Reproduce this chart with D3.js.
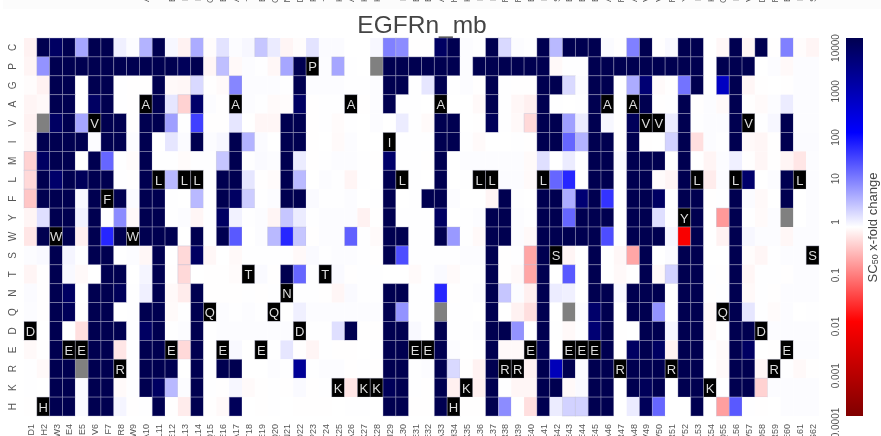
<!DOCTYPE html>
<html><head><meta charset="utf-8">
<script src="https://cdn.jsdelivr.net/npm/d3@7"></script>
<style>html,body{margin:0;padding:0;background:#fff;overflow:hidden}svg{display:block;filter:blur(0.45px)}text{font-family:"Liberation Sans",Arial,sans-serif}</style>
</head><body><div id="chart"></div>
<script>
const titleText = "EGFRn_mb";
const sequence = "DHWEEVFRWALELLQEATEQNDPTKAKKILEEAHKLLRRELSEEEARAVVRYLKQLVDRELS".split("");
const rowLabels = ["C","P","G","A","V","I","M","L","F","Y","W","S","T","N","Q","D","E","R","K","H"];
const legendTicks = [10000,1000,100,10,1,0.1,0.01,0.001,0.0001];
const legendTickNudge = [10,6,5,-1,-5,1,5,7,7];
// log10 of SC50 x-fold change, null = no data (grey)
const rowC = [-0.1,4,3.8,4,0.7,4,4,0.12,0.02,0.6,4,0.06,-0.1,0.65,-0.02,0.22,0.02,0.06,0.45,0.16,-0.08,-0.02,0.22,0.03,0.03,0,0,0.06,1,0.9,-0.01,-0.01,3.8,4,0.02,0.01,4,0.3,0.02,0.01,4,0.55,4,4,4,0.03,-0.01,1,4,-0.01,0.05,4,4,0,-0.06,4,-0.07,4,-0.01,1,-0.02,-0.08];
const rowP = [-0.08,0.85,4,4,4,4,4,4,4,4,4,4,3.9,4,-0.07,0.5,-0.05,0.02,0.01,-0.06,0.7,4,0,0.02,0.7,0.01,0,null,4,4,4,4,4,4,0.02,4,4,4,4,4,4,-0.05,0.01,0.01,4,4,4,4,4,4,4,4,4,0.01,4,4,4,0,0.02,-0.05,0.02,0.02];
const rowG = [-0.02,-0.1,4,4,0,4,4,0.01,-0.01,-0.01,4,-0.05,-0.06,0.3,-0.01,-0.04,0.95,0.02,0.02,0.02,0.01,4,0.02,0.02,0.02,0.01,0.01,0.02,4,4,0.01,0.2,4,0.01,0.02,-0.01,4,0.01,-0.01,-0.01,4,4,0.3,0.02,4,4,0,0.65,3.6,-0.04,-0.01,1.1,4,0.01,2.7,4,-0.07,-0.01,0,-0.01,0.02,0.02];
const rowA = [-0.08,-0.05,4,4,0,3.8,4,0.01,-0.01,0,4,0.2,-0.35,3.7,0.02,-0.01,0,0.02,0.01,-0.04,-0.02,3.8,-0.01,0.01,0.01,0,-0.01,0.02,4,0.01,0.01,0,0,0,0,-0.05,4,0.01,-0.06,-0.12,4,0.01,0,0.01,4,0,0,0,4,-0.01,0.01,4,-0.01,0.02,-0.05,4,-0.01,-0.04,0.02,0.15,0.02,0.02];
const rowV = [-0.1,null,3.8,4,0.7,0,4,4,-0.01,4,4,0.75,0.01,1.5,-0.01,-0.01,0.2,0,-0.07,-0.07,4,4,-0.01,0.01,-0.03,0.01,0,0.02,0,0.15,0.01,-0.04,4,4,0,-0.01,3.9,0.01,-0.05,-0.3,4,4,0.75,0.15,4,0.06,-0.01,3.9,0,0,0.15,4,0.01,0.02,0.02,4,0,0.01,0.06,4,0.02,0.02];
const rowI = [-0.06,4,4,4,4,0.02,4,4,0.02,4,0,0.2,0.03,4,0.02,0.06,4,0.6,0.03,0,4,4,-0.01,0,-0.04,0.02,0,0,0,0.01,0.01,0.01,4,4,0.01,-0.04,0,0,0.01,-0.01,4,4,1.2,0.6,4,4,-0.01,4,-0.01,0,0.35,4,-0.25,0.02,0.01,4,-0.05,-0.07,-0.01,4,0.03,0.03];
const rowM = [-0.35,3.8,4,4,0,4,1.2,0.01,-0.03,4,0.01,0.01,-0.03,0.01,0.01,0.45,4,0.01,0.04,0.02,4,0.15,-0.01,0.01,0.02,0.02,0.01,-0.01,3.7,0.01,0.01,-0.01,4,0,0.02,0.02,0.02,0.02,0.02,-0.04,0.25,0,0.15,0,4,4,0.04,4,4,4,0,4,0,-0.08,0.02,0.12,-0.01,-0.07,-0.01,-0.08,-0.2,0.02];
const rowL = [-0.3,4,3.7,4,3.9,4,4,0.01,-0.01,4,0,0.55,0,0,0.01,4,4,0.2,-0.01,-0.03,4,0.55,0,0.02,0.01,-0.08,0.01,0,4,0,0.01,0,4,0,0.01,0,0,0.02,0.02,-0.04,0,1.2,1.7,0,4,4,0.01,4,4,-0.03,-0.08,4,0,-0.15,0.02,0,3.7,0,0.02,4,0,0.02];
const rowF = [-0.45,4,4,4,0.05,4,0,4,0.03,4,4,0.01,0,0.55,0.01,4,3.8,0.4,0.01,0.02,4,4,0.04,0.01,0.01,0.02,0,0.01,4,0,0.01,4,4,0.02,0,0,-0.08,4,0.01,0,4,4,0.65,3.6,4,1.6,0.01,4,4,3.8,0,4,4,-0.01,0.01,4,0.03,-0.05,0,4,0,0.02];
const rowY = [-0.08,0.25,4,4,0.1,4,0,0.9,-0.05,4,4,0.01,0.02,-0.07,0.01,3.8,0.1,0.01,0.02,-0.08,0.45,0.15,0.01,0.02,0.02,0.02,-0.1,-0.01,4,0.01,0.01,0.01,3.8,0,0.01,0.02,4,4,0.02,0.01,4,4,1.2,4,4,4,0,4,4,0.25,0.01,0,4,0,-0.8,4,0.01,-0.04,0.02,null,0,0.02];
const rowW = [-0.2,4,0,4,-0.12,4,1.7,4,0,4,4,4,0,4,0.01,4,1.3,0,0.02,0.55,1.7,0.45,-0.01,0.02,0.02,1.25,0.01,-0.04,4,4,0.01,0.01,4,0.8,0.01,-0.05,4,4,0.02,-0.05,4,4,4,4,4,1.4,0,4,4,4,0.06,-2.1,4,0,-0.1,4,0.06,0.02,0.02,-0.06,0.02,0.02];
const rowS = [0.02,0.05,4,0.08,0.01,4,4,0.01,0.02,-0.06,4,0,-0.3,3.8,-0.06,0,-0.05,0.01,0.01,0.01,0.01,-0.05,0.04,0.01,0.02,0.02,0.01,-0.01,4,1.4,0.01,0.01,0.01,0.01,0.02,0.02,4,-0.01,0.01,-0.7,4,0,-0.08,0,4,0,-0.06,-0.7,4,0,0.03,4,4,0,0,4,-0.02,-0.07,0.01,0.02,0.02,0];
const rowT = [-0.08,-0.01,4,0.05,-0.05,0,4,4,0,0.08,4,-0.01,-0.3,0,-0.01,-0.01,-0.03,0,0.04,-0.01,4,1.2,0.01,0,0.04,-0.01,0.01,0.01,0,0,-0.04,0.01,0.04,-0.04,0.01,0.01,4,-0.01,-0.05,-0.7,4,0,1.3,0,4,0,-0.05,-0.01,4,-0.05,0.35,4,4,0.01,-0.01,4,-0.07,0.01,0.01,-0.01,0.02,0.02];
const rowN = [0.03,-0.01,4,3.8,0,4,4,3.9,0.01,0.12,4,-0.05,-0.15,4,-0.01,-0.01,-0.01,0.01,-0.01,0.01,0,0.01,0.01,-0.01,-0.07,0.04,0.01,0.01,4,4,0.01,0.01,1.7,-0.01,0.01,0.02,4,0.45,0.02,-0.12,4,0.15,0.12,0,4,4,0.05,4,4,4,0,4,4,-0.01,0.01,4,-0.05,0.01,-0.01,0.02,0.02,0.02];
const rowQ = [0.02,-0.01,4,3.9,-0.01,4,4,0,0.01,4,4,-0.04,0.01,4,0,0.02,0.01,0.02,0.01,0,0,0.12,0.02,0.02,0.02,0.02,0.02,0.02,4,0.85,0.01,0.01,null,0.01,0.01,0,4,0,-0.1,-0.25,4,0,null,0.02,3.7,4,0,4,4,0.85,0,4,4,-0.05,0,4,0.2,0.01,-0.03,0.02,0,0.01];
const rowD = [0,0,4,0,-0.25,4,4,4,0.01,3.8,4,0.01,0.02,4,0.01,0.02,0.02,0.02,0.02,0.02,0.02,0,0.01,0.01,0.25,4,-0.01,-0.01,4,4,0.05,0.01,4,0.01,0.01,0.02,4,4,0.85,0,4,0.01,-0.05,0.01,3.6,4,-0.01,0,4,4,0.06,4,4,-0.04,0,4,4,0,0.02,0.02,0.02,0.02];
const rowE = [-0.05,-0.01,4,0,0,4,4,-0.2,0.01,4,4,0,-0.3,4,0,0,0.05,0,0,0.01,0.2,-0.01,-0.08,0.01,-0.01,-0.01,0,0.01,4,4,0,0,4,0.02,0,0.01,4,-0.05,-0.05,0,4,0,0,0,0,4,-0.01,3.8,4,3.8,-0.1,4,4,0.01,-0.04,4,3.8,0,-0.01,0,0.02,0.02];
const rowR = [0.01,-0.05,4,4,null,4,4,0,0.01,4,4,4,0,4,0.01,4,4,0,0,0.02,0.01,3.2,0.01,0.02,0.02,-0.01,0.01,-0.01,4,4,0.01,0.02,4,0.3,-0.01,-0.1,4,0,0,-0.1,4,2.8,4,0.03,4,4,0,4,4,4,0,4,4,0,-0.05,4,4,-0.07,0,0.01,-0.05,-0.01];
const rowK = [0.01,0,4,4,0.04,4,4,-0.04,0.01,4,3.8,0.55,0.02,4,0.01,-0.01,0.06,-0.04,-0.01,0.01,-0.01,0.04,-0.01,0.01,0,-0.2,0,0,3.9,4,0.01,-0.01,4,-0.12,0,-0.12,4,0.01,-0.07,-0.07,4,4,-0.05,0.04,4,4,0,4,3.9,4,0,4,4,0,0,4,4,-0.35,0.02,0.02,0.02,0.02];
const rowH = [-0.01,0,4,4,0.04,4,4,0.08,-0.01,0.01,4,-0.01,-0.15,4,-0.01,-0.05,3.9,0,-0.01,0.01,0,-0.01,-0.01,-0.01,0,0.01,0.01,0,4,4,-0.01,-0.01,4,0,-0.01,-0.01,4,0.9,0,-0.25,4,0.15,0.35,0.35,4,4,0,0.15,3.9,1.2,0,0,4,0,-0.75,1.3,0.01,-0.01,0,0.02,0.02,0.02];
const rows = [rowC,rowP,rowG,rowA,rowV,rowI,rowM,rowL,rowF,rowY,rowW,rowS,rowT,rowN,rowQ,rowD,rowE,rowR,rowK,rowH];

const W = 881, H = 436;
const plot = {l:24, r:819, t:38, b:416};
const columns = sequence.map((s,i)=>s+(i+1));
const x = d3.scaleBand().domain(columns).range([plot.l,plot.r]);
const y = d3.scaleBand().domain(rowLabels).range([plot.t,plot.b]);
const color = d3.scaleLinear().domain([-4,-2,0,2,4]).range(["#800000","#ff0000","#ffffff","#0000ff","#000050"]).clamp(true);
const legendY = d3.scaleLog().domain([10000,0.0001]).range([plot.t,plot.b]);

const svg = d3.select("#chart").append("svg").attr("width",W).attr("height",H);
svg.append("rect").attr("width",W).attr("height",H).attr("fill","#fff");
svg.append("rect").attr("x",3).attr("y",0).attr("width",W-3).attr("height",9).attr("fill","#fcfcfc");

// clipped axis labels of the panel above
const colLabel = (g,yPos)=>g.selectAll("text").data(columns).join("text")
  .attr("transform",d=>`translate(${x(d)+x.bandwidth()/2+0.5},${yPos}) rotate(-90)`)
  .attr("text-anchor","end").attr("dominant-baseline","central")
  .attr("font-size",9).attr("fill","#555").text(d=>d);
svg.append("g").call(colLabel,-14);

svg.append("text").attr("x",422).attr("y",33).attr("text-anchor","middle")
  .attr("font-size",24.5).attr("fill","#444").text(titleText);

const cells = [];
rows.forEach((r,ri)=>r.forEach((v,ci)=>cells.push({row:rowLabels[ri],col:columns[ci],wt:sequence[ci]===rowLabels[ri],v})));
svg.append("g").selectAll("rect").data(cells).join("rect")
  .attr("x",d=>x(d.col)).attr("y",d=>y(d.row))
  .attr("width",x.bandwidth()).attr("height",y.bandwidth())
  .attr("fill",d=>d.wt?"#000":d.v===null?"#808080":color(d.v))
  .attr("stroke",d=>Math.abs(d.v)<0.3&&!d.wt?"none":"#b8b8d0").attr("stroke-opacity",0.45).attr("stroke-width",0.8);
svg.append("g").selectAll("text").data(cells.filter(d=>d.wt)).join("text")
  .attr("x",d=>x(d.col)+x.bandwidth()/2).attr("y",d=>y(d.row)+y.bandwidth()/2+0.5)
  .attr("text-anchor","middle").attr("dominant-baseline","central")
  .attr("font-size",13).attr("fill","#ddd").text(d=>d.row);

// row labels
svg.append("g").selectAll("text").data(rowLabels).join("text")
  .attr("transform",d=>`translate(12,${y(d)+y.bandwidth()/2}) rotate(-90)`)
  .attr("text-anchor","middle").attr("dominant-baseline","central")
  .attr("font-size",10).attr("fill","#555").text(d=>d);
svg.append("g").call(colLabel,424);

// colour bar
const defs = svg.append("defs");
const grad = defs.append("linearGradient").attr("id","cb").attr("x1",0).attr("y1",0).attr("x2",0).attr("y2",1);
d3.range(0,1.0001,0.05).forEach(t=>grad.append("stop").attr("offset",t).attr("stop-color",color(4-8*t)));
svg.append("rect").attr("x",846).attr("y",plot.t).attr("width",17).attr("height",plot.b-plot.t).attr("fill","url(#cb)");
svg.append("g").selectAll("text").data(legendTicks).join("text")
  .attr("transform",(d,i)=>`translate(835,${legendY(d)+legendTickNudge[i]}) rotate(-90)`)
  .attr("text-anchor","middle").attr("dominant-baseline","central")
  .attr("font-size",10).attr("fill","#555").text(d=>String(d));
const lab = svg.append("text").attr("transform","translate(872,227.5) rotate(-90)")
  .attr("text-anchor","middle").attr("dominant-baseline","central").attr("font-size",13).attr("fill","#444");
lab.append("tspan").text("SC");
lab.append("tspan").attr("font-size",9).attr("dy",3).text("50");
lab.append("tspan").attr("dy",-3).text(" x-fold change");
</script></body></html>
